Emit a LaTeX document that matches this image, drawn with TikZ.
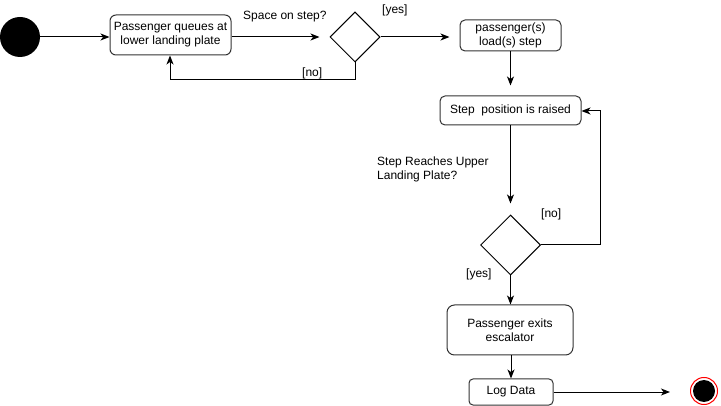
\documentclass[tikz,border=0pt]{standalone}
\usepackage{fontspec}
\setmainfont{Liberation Sans}
\usetikzlibrary{shapes.geometric,arrows.meta}
\begin{document}
\begin{tikzpicture}[x=1pt,y=-1pt,
  every node/.style={font=\fontsize{12}{14}\selectfont, text=black},
  act/.style={draw=black!80, line width=1pt, rounded corners=#1, inner sep=0pt, align=center},
  act/.default=6pt,
  dec/.style={draw=black, line width=1pt, diamond, aspect=1, inner sep=0pt},
  flow/.style={draw=black, line width=1pt, -{Stealth[length=9pt,width=7pt,inset=2.5pt]}},
  lbl/.style={inner sep=0pt, anchor=west}
]
\useasboundingbox (0,0) rectangle (721,406);
\node[circle, fill=black, minimum size=40pt, inner sep=0pt] (start) at (20,37) {};
\node[act, minimum width=121pt, minimum height=40pt] (q) at (170.5,35) {Passenger queues at\\lower landing plate};
\node[dec, minimum size=50pt] (d1) at (355,37) {};
\node[act=5pt, minimum width=101pt, minimum height=31pt] (load) at (510.5,35.5) {passenger(s)\\load(s) step};
\node[act=5pt, minimum width=141pt, minimum height=29pt] (raise) at (510.5,110.5) {Step\ \ position is raised};
\node[dec, minimum size=60pt] (d2) at (510.5,245) {};
\node[act=7.5pt, minimum width=126pt, minimum height=50pt] (exit) at (510,330) {Passenger exits\\escalator};
\node[act=4pt, minimum width=84pt, minimum height=26pt] (log) at (511,392) {Log Data};
\node[circle, draw=red, line width=1pt, fill=white, minimum size=27pt, inner sep=0pt] (end) at (704,391) {};
\node[circle, fill=black, minimum size=22pt, inner sep=0pt] at (end) {};

\coordinate (c1) at (355,80);
\coordinate (c2) at (170,80);
\coordinate (c3) at (600,245);
\coordinate (c4) at (600,111);

\draw[flow] (start.east) -- (q.west |- start);
\draw[flow, shorten >=10pt] (q.east |- d1) -- (d1.west);
\draw[flow, shorten >=10pt] (d1.east) -- (load.west |- d1);
\draw[flow] (d1.south) -- (c1) -- (c2) -- (q.south -| c2);
\draw[flow, shorten >=10pt] (load.south) -- (raise.north);
\draw[flow, shorten >=11pt] (raise.south -| d2) -- (d2.north);
\draw[flow] (d2.east) -- (c3) -- (c4) -- (raise.east |- c4);
\draw[flow] (d2.south) -- (exit.north -| d2);
\draw[flow] (exit.south -| log) -- (log.north);
\draw[flow, shorten >=20pt] (log.east) -- (end.west |- log);

\node[lbl, anchor=south west] at (243,22) {Space on step?};
\node[lbl, anchor=south west] at (382,16) {[yes]};
\node[lbl, anchor=south west] at (302,79) {[no]};
\node[lbl, anchor=north west, align=left] (qlab) at (377,157) {Step Reaches Upper\\Landing Plate?};
\node[lbl, anchor=south west] at (541,220) {[no]};
\node[lbl, anchor=south west] at (466,280) {[yes]};
\end{tikzpicture}
\end{document}
